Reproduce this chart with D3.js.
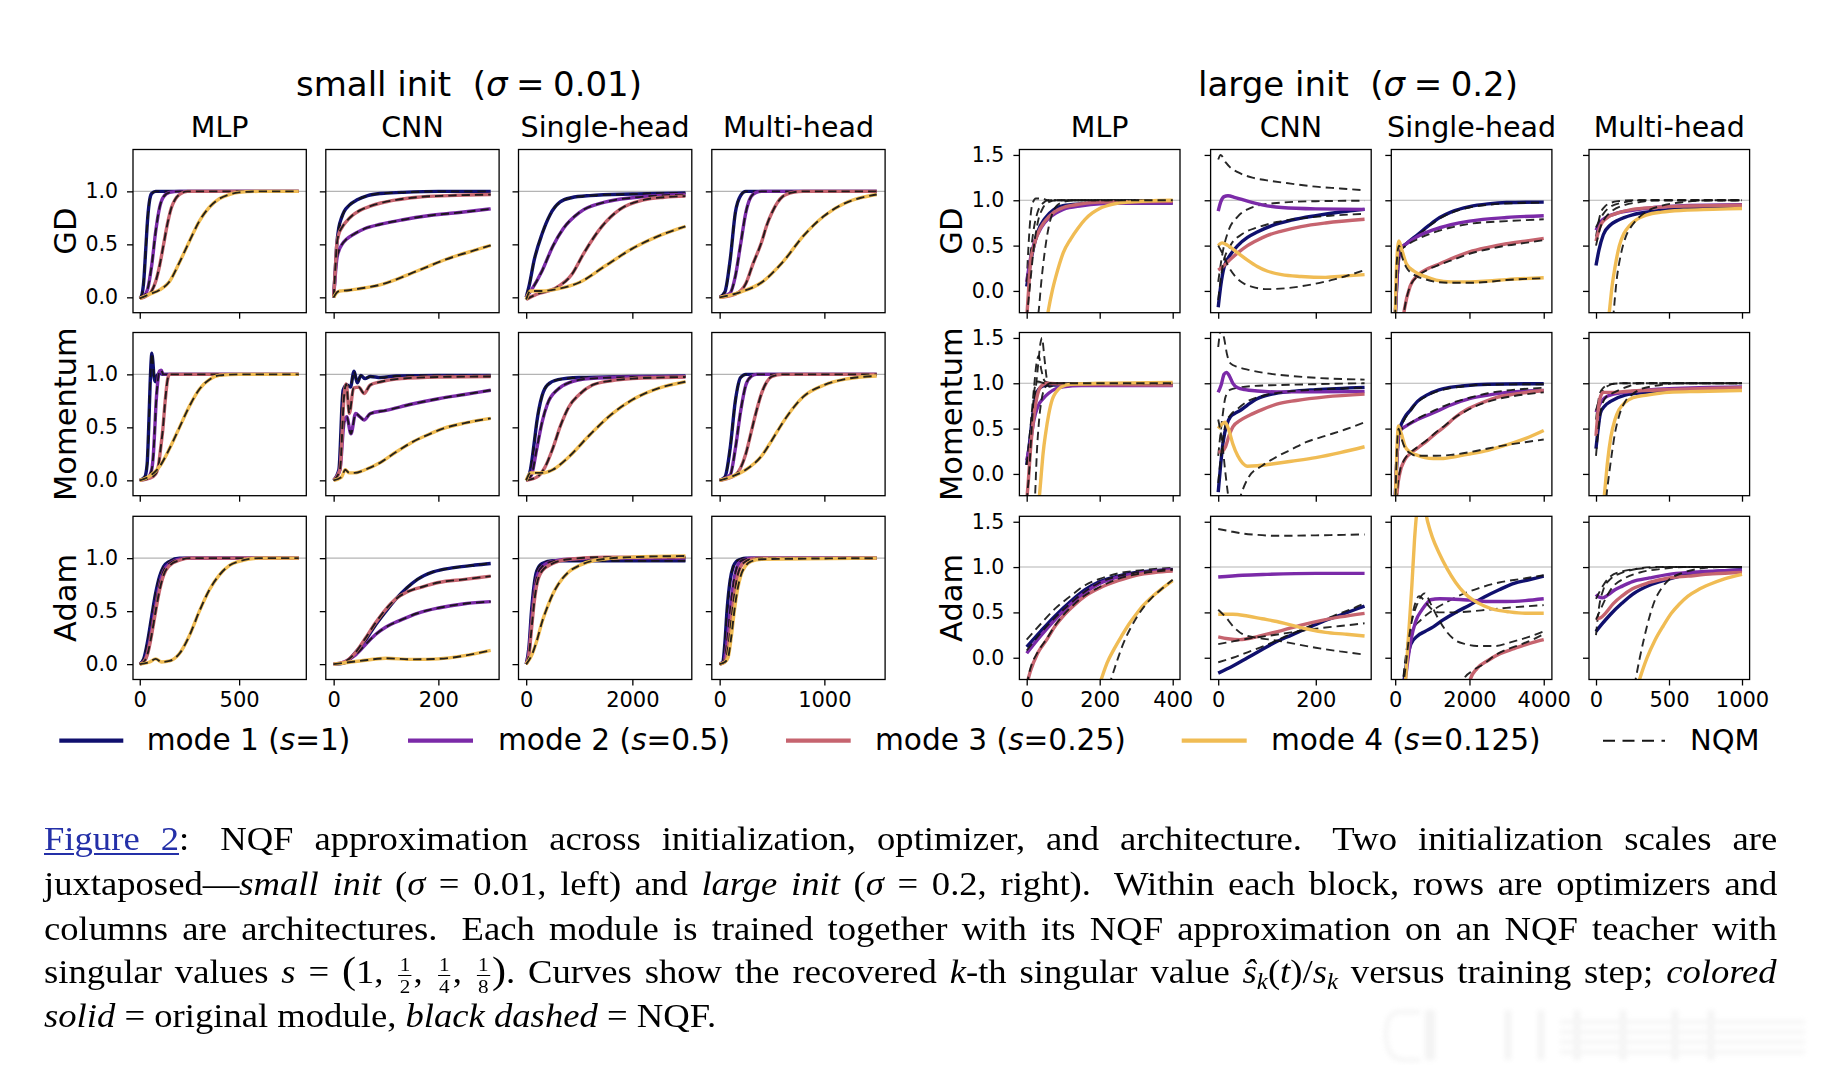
<!DOCTYPE html>
<html>
<head>
<meta charset="utf-8">
<script src="https://cdn.jsdelivr.net/npm/d3@7"></script>
<style>
  body { margin: 0; background: #fff; }
  #wrap { position: relative; width: 1823px; height: 1080px; overflow: hidden; background: #fff; }
  #chart { position: absolute; left: 0; top: 0; }
  .cap { position: absolute; left: 44px; height: 44px; white-space: nowrap;
         font-family: "Liberation Serif", "Times New Roman", Times, serif;
         font-size: 33px; line-height: 44px; color: #000;
         transform: scaleX(1.11); transform-origin: 0 0; }
  .cap i { font-style: italic; }
  .fig { color: #2430a8; text-decoration: underline; text-decoration-thickness: 1.5px; text-underline-offset: 3px; }
  .frac { display: inline-block; vertical-align: -10px; text-align: center; font-size: 19px; line-height: 21.5px; margin: 0 2px; }
  .frac span { display: block; }
  .frac .num { border-bottom: 1.3px solid #000; padding: 0 1px; line-height: 21.5px; }
  .big { font-size: 38px; line-height: 1; }
  .sub { font-size: 0.68em; vertical-align: -0.28em; line-height: 0; }
  .ss { display: inline-block; width: 9px; }
</style>
</head>
<body>
<div id="wrap">
<svg id="chart"></svg>
<div class="cap" style="top:817px;"><span class="in"><span class="fig">Figure 2</span>:<span class="ss"></span> NQF approximation across initialization, optimizer, and architecture.<span class="ss"></span> Two initialization scales are</span></div>
<div class="cap" style="top:862px;"><span class="in">juxtaposed—<i>small init</i> (<i>σ</i> = 0.01, left) and <i>large init</i> (<i>σ</i> = 0.2, right).<span class="ss"></span> Within each block, rows are optimizers and</span></div>
<div class="cap" style="top:907px;"><span class="in">columns are architectures.<span class="ss"></span> Each module is trained together with its NQF approximation on an NQF teacher with</span></div>
<div class="cap" style="top:950px;"><span class="in">singular values <i>s</i> = <span class="big">(</span>1, <span class="frac"><span class="num">1</span><span>2</span></span>, <span class="frac"><span class="num">1</span><span>4</span></span>, <span class="frac"><span class="num">1</span><span>8</span></span><span class="big">)</span>. Curves show the recovered <i>k</i>-th singular value <i>ŝ</i><span class="sub"><i>k</i></span>(<i>t</i>)/<i>s</i><span class="sub"><i>k</i></span> versus training step; <i>colored</i></span></div>
<div class="cap last" style="top:994px;"><span class="in"><i>solid</i> = original module, <i>black dashed</i> = NQF.</span></div>
</div>
<script>
// ===================== DATA =====================
// [training step, recovered singular value ratio]
const MODE_LABELS = ["1", "0.5", "0.25", "0.125"];
const ARCHS = ["MLP", "CNN", "Single-head", "Multi-head"];
const OPTIMS = ["GD", "Momentum", "Adam"];

const SMALL_XTICKS = [[0, 500], [0, 200], [0, 2000], [0, 1000]];
const LARGE_XTICKS = [[0, 200, 400], [0, 200], [0, 2000, 4000], [0, 500, 1000]];
const SMALL_YTICKS = [0.0, 0.5, 1.0];
const LARGE_YTICKS = [0.0, 0.5, 1.0, 1.5];
const SMALL_XDOM = [[-34, 838], [-15, 316], [-145, 3120], [-75, 1580]];
const LARGE_XDOM = [[-20, 420], [-15.6, 313.6], [-105, 4220], [-48, 1052]];
const SMALL_YDOM = [-0.145, 1.395];
const LARGE_YDOM = [-0.24, 1.56];

// ---------- small init (sigma = 0.01) ; NQF tracks module closely ----------
const S_GD_MLP_1 = [[0,-0.01],[10,0.02],[20,0.15],[30,0.45],[40,0.75],[50,0.92],[60,0.98],[80,1.0],[800,1.0]];
const S_GD_MLP_2 = [[0,-0.01],[20,0.01],[40,0.08],[60,0.3],[80,0.62],[100,0.85],[120,0.95],[150,0.99],[200,1.0],[800,1.0]];
const S_GD_MLP_3 = [[0,-0.01],[40,0.02],[60,0.06],[80,0.15],[100,0.3],[120,0.5],[140,0.7],[160,0.85],[180,0.93],[200,0.97],[240,1.0],[800,1.0]];
const S_GD_MLP_4 = [[0,-0.01],[50,0.03],[100,0.07],[150,0.15],[200,0.33],[250,0.53],[300,0.72],[350,0.85],[400,0.93],[450,0.97],[500,0.99],[600,1.0],[800,1.0]];
const S_GD_CNN_1 = [[0,0],[3,0.25],[6,0.5],[10,0.66],[15,0.75],[20,0.81],[30,0.87],[45,0.92],[65,0.96],[90,0.98],[130,0.99],[200,1.0],[300,1.0]];
const S_GD_CNN_2 = [[0,0],[3,0.2],[6,0.36],[10,0.44],[16,0.5],[25,0.55],[40,0.6],[60,0.65],[90,0.69],[130,0.73],[180,0.77],[240,0.8],[300,0.835]];
const S_GD_CNN_3 = [[0,0],[3,0.25],[6,0.5],[10,0.6],[16,0.66],[25,0.72],[35,0.77],[50,0.82],[70,0.86],[90,0.89],[120,0.92],[160,0.945],[220,0.96],[300,0.97]];
const S_GD_CNN_4 = [[0,0],[5,0.04],[12,0.06],[25,0.065],[40,0.075],[60,0.09],[90,0.12],[120,0.17],[150,0.23],[180,0.29],[210,0.35],[240,0.4],[270,0.445],[300,0.49]];
const S_GD_SH_1 = [[0,0],[60,0.12],[150,0.35],[300,0.6],[450,0.78],[640,0.9],[850,0.94],[1200,0.96],[2000,0.975],[3000,0.985]];
const S_GD_SH_2 = [[0,0],[100,0.07],[300,0.25],[500,0.48],[700,0.65],[1000,0.8],[1500,0.9],[2000,0.94],[3000,0.97]];
const S_GD_SH_3 = [[0,-0.02],[200,0.03],[528,0.08],[865,0.22],[1090,0.42],[1427,0.67],[1765,0.83],[2215,0.92],[2600,0.945],[3000,0.955]];
const S_GD_SH_4 = [[0,-0.02],[80,0.06],[300,0.06],[600,0.08],[1000,0.14],[1500,0.3],[2000,0.46],[2500,0.58],[3000,0.67]];
const S_GD_MH_1 = [[0,0],[50,0.05],[100,0.35],[150,0.8],[200,0.96],[250,1.0],[1500,1.0]];
const S_GD_MH_2 = [[0,0],[100,0.04],[150,0.2],[200,0.5],[250,0.8],[300,0.95],[350,0.99],[400,1.0],[1500,1.0]];
const S_GD_MH_3 = [[0,0],[150,0.03],[250,0.13],[320,0.32],[400,0.52],[450,0.68],[500,0.8],[600,0.95],[700,0.99],[800,1.0],[1500,1.0]];
const S_GD_MH_4 = [[0,0],[200,0.05],[400,0.14],[600,0.33],[800,0.58],[1000,0.77],[1200,0.89],[1350,0.94],[1500,0.97]];

const S_MO_MLP_1 = [[0,0],[25,0.03],[37,0.15],[45,0.5],[52,0.9],[57,1.12],[61,1.2],[66,1.12],[72,0.97],[79,0.93],[88,0.99],[100,1.01],[120,1.0],[800,1.0]];
const S_MO_MLP_2 = [[0,0],[40,0.02],[60,0.1],[69,0.26],[76,0.5],[82,0.73],[90,0.92],[99,1.03],[108,1.04],[118,1.0],[800,1.0]];
const S_MO_MLP_3 = [[0,0],[50,0.02],[80,0.06],[95,0.15],[105,0.3],[116,0.48],[128,0.75],[140,0.95],[150,1.0],[800,1.0]];
const S_MO_MLP_4 = [[0,0],[50,0.04],[100,0.13],[150,0.3],[200,0.5],[250,0.7],[300,0.86],[350,0.95],[400,0.99],[500,1.0],[800,1.0]];
const S_MO_CNN_1 = [[0,0],[10,0.1],[18,0.85],[25,0.9],[32,0.88],[39,1.03],[45,0.92],[52,0.99],[60,0.96],[70,0.98],[90,0.97],[120,0.985],[200,0.99],[300,0.99]];
const S_MO_CNN_2 = [[0,0],[12,0.1],[20,0.55],[25,0.6],[33,0.44],[42,0.63],[50,0.6],[58,0.57],[70,0.63],[100,0.66],[150,0.72],[200,0.77],[250,0.81],[300,0.85]];
const S_MO_CNN_3 = [[0,0],[12,0.1],[20,0.8],[24,0.91],[30,0.63],[38,0.87],[48,0.88],[58,0.82],[70,0.9],[90,0.93],[130,0.96],[200,0.975],[300,0.98]];
const S_MO_CNN_4 = [[0,0],[15,0.03],[22,0.1],[30,0.07],[40,0.07],[60,0.1],[90,0.17],[120,0.27],[150,0.36],[180,0.43],[210,0.49],[250,0.54],[300,0.585]];
const S_MO_SH_1 = [[0,0],[80,0.1],[150,0.35],[200,0.55],[300,0.8],[400,0.9],[600,0.95],[1000,0.97],[2000,0.98],[3000,0.985]];
const S_MO_SH_2 = [[0,0],[100,0.05],[200,0.3],[300,0.55],[400,0.72],[600,0.86],[800,0.92],[1200,0.96],[2000,0.975],[3000,0.98]];
const S_MO_SH_3 = [[0,0],[200,0.03],[350,0.12],[500,0.3],[650,0.52],[800,0.69],[1000,0.81],[1250,0.9],[1600,0.94],[2000,0.96],[3000,0.975]];
const S_MO_SH_4 = [[0,0],[80,0.07],[300,0.07],[500,0.1],[800,0.22],[1200,0.43],[1600,0.62],[2000,0.76],[2500,0.87],[3000,0.93]];
const S_MO_MH_1 = [[0,0],[50,0.03],[100,0.3],[150,0.75],[200,0.97],[250,1.0],[1500,1.0]];
const S_MO_MH_2 = [[0,0],[100,0.05],[150,0.3],[200,0.65],[250,0.9],[300,0.98],[350,1.0],[1500,1.0]];
const S_MO_MH_3 = [[0,0],[150,0.05],[250,0.25],[300,0.45],[350,0.65],[400,0.82],[450,0.93],[500,0.98],[600,1.0],[1500,1.0]];
const S_MO_MH_4 = [[0,0],[100,0.03],[250,0.1],[400,0.23],[500,0.38],[600,0.54],[700,0.68],[800,0.79],[1000,0.9],[1200,0.955],[1500,0.985]];

const S_AD_MLP_1 = [[0,0],[20,0.05],[40,0.22],[60,0.45],[80,0.67],[100,0.83],[120,0.92],[150,0.97],[200,1.0],[800,1.0]];
const S_AD_MLP_2 = [[0,0],[20,0.02],[40,0.12],[60,0.32],[80,0.55],[100,0.75],[120,0.88],[150,0.95],[200,0.99],[250,1.0],[800,1.0]];
const S_AD_MLP_3 = [[0,0],[20,0.02],[40,0.1],[60,0.28],[80,0.5],[100,0.7],[120,0.84],[150,0.93],[200,0.98],[250,1.0],[800,1.0]];
const S_AD_MLP_4 = [[0,0],[50,0.02],[80,0.05],[110,0.02],[150,0.03],[200,0.1],[250,0.27],[300,0.5],[350,0.7],[400,0.84],[450,0.93],[500,0.97],[600,1.0],[800,1.0]];
const S_AD_CNN_1 = [[0,0],[20,0.01],[40,0.1],[60,0.22],[80,0.37],[100,0.5],[120,0.62],[140,0.72],[160,0.8],[190,0.87],[230,0.91],[270,0.935],[300,0.95]];
const S_AD_CNN_2 = [[0,0],[20,0.02],[40,0.08],[60,0.18],[80,0.28],[100,0.35],[130,0.42],[160,0.48],[200,0.53],[250,0.57],[300,0.59]];
const S_AD_CNN_3 = [[0,0],[20,0.02],[40,0.1],[60,0.24],[80,0.39],[100,0.52],[120,0.62],[140,0.68],[170,0.73],[200,0.77],[250,0.8],[300,0.83]];
const S_AD_CNN_4 = [[0,0],[50,0.03],[100,0.055],[150,0.045],[200,0.05],[250,0.08],[300,0.13]];
const S_AD_SH_1 = [[0,0],[50,0.15],[100,0.5],[150,0.75],[200,0.88],[300,0.95],[500,0.975],[1000,0.975],[3000,0.975]];
const S_AD_SH_2 = [[0,0],[50,0.1],[100,0.4],[150,0.66],[200,0.82],[300,0.92],[500,0.97],[800,0.99],[1500,1.0],[3000,1.0]];
const S_AD_SH_3 = [[0,0],[50,0.08],[100,0.33],[150,0.58],[200,0.75],[300,0.88],[500,0.95],[800,0.99],[1500,1.01],[3000,1.01]];
const S_AD_SH_4 = [[0,0],[100,0.08],[200,0.22],[300,0.4],[400,0.54],[500,0.66],[600,0.75],[800,0.87],[1000,0.93],[1300,0.98],[2000,1.01],[3000,1.02]];
const S_AD_MH_1 = [[0,0],[30,0.02],[50,0.2],[70,0.5],[100,0.79],[130,0.92],[160,0.97],[200,0.99],[250,1.0],[1500,1.0]];
const S_AD_MH_2 = [[0,0],[40,0.02],[70,0.2],[100,0.5],[130,0.75],[160,0.9],[200,0.97],[250,0.99],[300,1.0],[1500,1.0]];
const S_AD_MH_3 = [[0,0],[50,0.02],[80,0.15],[110,0.4],[140,0.65],[170,0.83],[200,0.92],[250,0.97],[300,0.99],[400,1.0],[1500,1.0]];
const S_AD_MH_4 = [[0,0],[50,0.02],[80,0.06],[110,0.25],[140,0.5],[170,0.7],[200,0.83],[250,0.93],[300,0.97],[400,0.99],[1500,1.0]];

// ---------- large init (sigma = 0.2) : module (1..4) and NQF (d1..d4) ----------
const L_GD_MLP_1 = [[0,0.05],[10,0.3],[20,0.5],[30,0.65],[50,0.8],[75,0.9],[100,0.94],[150,0.96],[200,0.97],[400,0.97]];
const L_GD_MLP_2 = [[0,0.1],[10,0.35],[20,0.52],[40,0.7],[60,0.8],[80,0.86],[100,0.9],[150,0.94],[200,0.96],[300,0.97],[400,0.97]];
const L_GD_MLP_3 = [[0,-0.3],[5,0.0],[10,0.3],[20,0.5],[30,0.63],[50,0.77],[75,0.87],[100,0.92],[150,0.96],[200,0.98],[400,0.99]];
const L_GD_MLP_4 = [[40,-0.8],[50,-0.45],[60,-0.2],[70,0.0],[80,0.16],[90,0.3],[100,0.42],[120,0.57],[140,0.69],[160,0.79],[180,0.86],[200,0.91],[240,0.96],[280,0.98],[400,1.0]];
const L_GD_MLP_d1 = [[0,0.1],[5,0.5],[10,0.8],[15,0.95],[25,1.02],[40,1.02],[60,1.0],[400,1.0]];
const L_GD_MLP_d2 = [[0,0.1],[10,0.4],[20,0.7],[30,0.87],[45,0.97],[60,1.0],[400,1.0]];
const L_GD_MLP_d3 = [[0,-0.3],[10,0.1],[20,0.5],[30,0.75],[45,0.92],[60,0.98],[80,1.0],[400,1.0]];
const L_GD_MLP_d4 = [[25,-0.4],[32,-0.25],[40,0.1],[50,0.45],[60,0.7],[70,0.85],[80,0.93],[100,0.98],[130,1.0],[400,1.0]];
const L_GD_CNN_1 = [[0,-0.18],[5,0.05],[12,0.26],[25,0.4],[40,0.5],[60,0.59],[80,0.65],[110,0.72],[150,0.78],[200,0.83],[250,0.87],[300,0.9]];
const L_GD_CNN_2 = [[0,0.88],[5,0.98],[12,1.04],[20,1.05],[35,1.03],[60,0.99],[90,0.95],[130,0.92],[200,0.905],[300,0.9]];
const L_GD_CNN_3 = [[0,0.23],[10,0.27],[25,0.35],[40,0.42],[60,0.5],[80,0.56],[100,0.61],[130,0.66],[170,0.71],[220,0.75],[300,0.79]];
const L_GD_CNN_4 = [[0,0.5],[8,0.53],[20,0.5],[40,0.42],[60,0.34],[80,0.27],[100,0.22],[130,0.18],[170,0.16],[220,0.15],[260,0.165],[300,0.18]];
const L_GD_CNN_d1 = [[0,0.1],[10,0.45],[20,0.65],[40,0.82],[60,0.9],[80,0.94],[120,0.97],[200,0.99],[300,0.995]];
const L_GD_CNN_d2 = [[0,1.45],[5,1.5],[15,1.42],[25,1.36],[40,1.31],[70,1.25],[100,1.22],[140,1.19],[200,1.15],[250,1.13],[300,1.11]];
const L_GD_CNN_d3 = [[0,-0.1],[10,0.3],[25,0.5],[50,0.63],[80,0.7],[120,0.76],[170,0.8],[230,0.83],[300,0.85]];
const L_GD_CNN_d4 = [[0,0.5],[10,0.4],[20,0.28],[35,0.16],[50,0.09],[70,0.045],[100,0.02],[140,0.03],[190,0.07],[240,0.13],[300,0.23]];
const L_GD_SH_1 = [[0,-0.3],[60,0.2],[120,0.45],[300,0.52],[600,0.62],[900,0.72],[1200,0.81],[1500,0.87],[2000,0.93],[2500,0.96],[3000,0.975],[4000,0.98]];
const L_GD_SH_2 = [[0,-0.3],[60,0.2],[150,0.46],[300,0.52],[600,0.6],[1000,0.67],[1500,0.73],[2000,0.77],[3000,0.81],[4000,0.83]];
const L_GD_SH_3 = [[150,-0.5],[250,-0.2],[400,0.05],[600,0.17],[900,0.25],[1200,0.3],[1600,0.37],[2000,0.43],[2500,0.48],[3000,0.52],[3500,0.55],[4000,0.58]];
const L_GD_SH_4 = [[0,-0.3],[40,0.3],[100,0.55],[180,0.45],[300,0.3],[500,0.22],[800,0.16],[1100,0.12],[1500,0.1],[2000,0.1],[2500,0.11],[3000,0.125],[4000,0.145]];
const L_GD_SH_d1 = [[0,-0.3],[60,0.2],[120,0.45],[300,0.51],[600,0.61],[900,0.71],[1200,0.8],[1500,0.86],[2000,0.92],[2500,0.95],[3000,0.965],[4000,0.975]];
const L_GD_SH_d2 = [[0,-0.3],[60,0.2],[150,0.45],[300,0.5],[600,0.57],[1000,0.64],[1500,0.7],[2000,0.74],[3000,0.77],[4000,0.79]];
const L_GD_SH_d3 = [[150,-0.5],[250,-0.2],[400,0.05],[600,0.16],[900,0.24],[1200,0.29],[1600,0.35],[2000,0.41],[2500,0.46],[3000,0.5],[3500,0.53],[4000,0.56]];
const L_GD_SH_d4 = [[0,-0.3],[40,0.3],[100,0.5],[180,0.38],[300,0.26],[500,0.18],[800,0.13],[1100,0.1],[1500,0.09],[2000,0.09],[2500,0.1],[3000,0.12],[4000,0.14]];
const L_GD_MH_1 = [[0,0.28],[20,0.45],[50,0.62],[100,0.73],[150,0.78],[250,0.84],[400,0.88],[600,0.91],[800,0.92],[1000,0.93]];
const L_GD_MH_2 = [[0,0.67],[30,0.76],[70,0.81],[150,0.86],[250,0.89],[400,0.92],[600,0.94],[1000,0.95]];
const L_GD_MH_3 = [[0,0.55],[30,0.72],[70,0.8],[150,0.86],[250,0.9],[400,0.92],[600,0.935],[1000,0.945]];
const L_GD_MH_4 = [[60,-0.6],[90,-0.25],[110,0.05],[130,0.26],[160,0.5],[190,0.63],[230,0.72],[280,0.79],[350,0.84],[450,0.87],[600,0.89],[800,0.9],[1000,0.91]];
const L_GD_MH_d1 = [[0,0.6],[30,0.85],[60,0.93],[100,0.97],[150,0.99],[250,1.0],[1000,1.0]];
const L_GD_MH_d2 = [[0,0.7],[50,0.85],[100,0.93],[200,0.98],[300,1.0],[1000,1.0]];
const L_GD_MH_d3 = [[0,0.5],[30,0.7],[60,0.8],[100,0.87],[200,0.95],[300,0.98],[400,1.0],[1000,1.0]];
const L_GD_MH_d4 = [[100,-0.6],[120,-0.25],[140,0.1],[170,0.4],[200,0.58],[250,0.73],[300,0.82],[350,0.88],[450,0.94],[600,0.98],[800,1.0],[1000,1.0]];

const L_MO_MLP_1 = [[0,0.1],[8,0.35],[15,0.6],[23,0.82],[32,0.93],[45,0.97],[60,0.98],[400,0.98]];
const L_MO_MLP_2 = [[0,0.15],[10,0.35],[20,0.6],[30,0.74],[45,0.83],[60,0.89],[80,0.94],[100,0.96],[150,0.975],[400,0.975]];
const L_MO_MLP_3 = [[0,-0.3],[5,-0.05],[10,0.25],[20,0.65],[30,0.88],[40,0.97],[55,1.0],[100,0.99],[400,0.98]];
const L_MO_MLP_4 = [[25,-0.8],[35,-0.24],[40,0.0],[45,0.23],[52,0.45],[60,0.65],[70,0.82],[80,0.9],[95,0.96],[120,0.99],[200,1.0],[400,1.01]];
const L_MO_MLP_d1 = [[0,0.1],[10,0.4],[20,0.75],[30,1.15],[38,1.45],[42,1.5],[48,1.3],[55,1.05],[62,0.96],[75,0.98],[100,1.0],[400,1.0]];
const L_MO_MLP_d2 = [[0,0.1],[10,0.5],[20,0.95],[28,1.25],[33,1.3],[40,1.15],[50,1.02],[70,1.0],[400,1.0]];
const L_MO_MLP_d3 = [[0,-0.3],[8,0.1],[15,0.6],[22,0.95],[30,1.02],[50,1.0],[400,1.0]];
const L_MO_MLP_d4 = [[15,-0.8],[23,-0.24],[28,0.25],[33,0.55],[40,0.8],[50,0.95],[65,1.0],[400,1.0]];
const L_MO_CNN_1 = [[0,-0.2],[5,0.1],[10,0.35],[18,0.55],[25,0.63],[35,0.67],[45,0.7],[60,0.76],[80,0.83],[110,0.88],[150,0.91],[200,0.93],[300,0.955]];
const L_MO_CNN_2 = [[0,0.9],[6,0.98],[12,1.1],[17,1.12],[23,1.08],[30,1.0],[40,0.95],[55,0.93],[80,0.915],[120,0.905],[200,0.905],[300,0.91]];
const L_MO_CNN_3 = [[0,0.24],[8,0.25],[15,0.3],[22,0.42],[30,0.52],[45,0.59],[65,0.65],[90,0.71],[120,0.77],[160,0.81],[220,0.85],[300,0.88]];
const L_MO_CNN_4 = [[0,0.5],[8,0.55],[14,0.57],[22,0.48],[30,0.33],[40,0.2],[50,0.12],[60,0.085],[80,0.09],[110,0.11],[150,0.14],[200,0.18],[250,0.235],[300,0.3]];
const L_MO_CNN_d1 = [[0,0.2],[8,0.6],[15,0.85],[25,0.93],[40,0.95],[70,0.97],[120,0.98],[200,0.99],[300,1.0]];
const L_MO_CNN_d2 = [[0,1.4],[6,1.6],[12,1.5],[18,1.32],[25,1.22],[40,1.18],[60,1.15],[100,1.11],[150,1.08],[200,1.06],[300,1.04]];
const L_MO_CNN_d3 = [[0,-0.1],[8,0.3],[15,0.55],[25,0.65],[40,0.72],[60,0.8],[90,0.86],[130,0.9],[200,0.93],[300,0.95]];
const L_MO_CNN_d4 = [[0,0.6],[8,0.35],[15,0.0],[22,-0.3],[30,-0.5],[40,-0.35],[46,-0.24],[63,-0.03],[90,0.09],[120,0.19],[150,0.27],[180,0.35],[220,0.42],[260,0.49],[300,0.57]];
const L_MO_SH_1 = [[0,-0.3],[50,0.2],[120,0.48],[250,0.62],[400,0.7],[600,0.8],[900,0.88],[1300,0.94],[1800,0.97],[2500,0.99],[4000,0.995]];
const L_MO_SH_2 = [[0,-0.3],[50,0.2],[120,0.47],[300,0.53],[600,0.6],[1000,0.67],[1500,0.76],[2000,0.83],[2500,0.87],[3000,0.9],[4000,0.92]];
const L_MO_SH_3 = [[0,-0.6],[45,-0.24],[120,0.0],[250,0.15],[422,0.23],[650,0.3],[874,0.37],[1100,0.45],[1326,0.52],[1600,0.62],[1929,0.71],[2300,0.78],[2700,0.84],[3200,0.88],[4000,0.92]];
const L_MO_SH_4 = [[0,-0.4],[40,0.2],[90,0.53],[160,0.45],[270,0.3],[400,0.24],[570,0.21],[800,0.18],[1025,0.17],[1300,0.17],[1600,0.19],[2000,0.22],[2500,0.26],[3000,0.32],[3500,0.39],[4000,0.48]];
const L_MO_SH_d1 = [[0,-0.3],[50,0.2],[120,0.47],[250,0.6],[400,0.69],[600,0.79],[900,0.87],[1300,0.93],[1800,0.965],[2500,0.985],[4000,0.99]];
const L_MO_SH_d2 = [[0,-0.3],[50,0.2],[120,0.47],[300,0.53],[600,0.61],[1000,0.69],[1500,0.78],[2000,0.84],[2500,0.89],[3000,0.92],[4000,0.95]];
const L_MO_SH_d3 = [[0,-0.6],[45,-0.24],[120,0.02],[250,0.16],[422,0.24],[650,0.31],[874,0.38],[1100,0.46],[1326,0.53],[1600,0.62],[1929,0.7],[2300,0.77],[2700,0.82],[3200,0.86],[4000,0.9]];
const L_MO_SH_d4 = [[0,-0.4],[40,0.2],[90,0.5],[160,0.4],[270,0.28],[400,0.23],[570,0.2],[800,0.2],[1100,0.2],[1500,0.21],[2000,0.24],[2500,0.28],[3000,0.32],[3500,0.35],[4000,0.38]];
const L_MO_MH_1 = [[0,0.28],[15,0.5],[30,0.67],[60,0.75],[100,0.8],[200,0.87],[350,0.9],[600,0.93],[1000,0.95]];
const L_MO_MH_2 = [[0,0.68],[30,0.78],[60,0.84],[120,0.88],[250,0.91],[500,0.94],[1000,0.96]];
const L_MO_MH_3 = [[0,0.42],[15,0.7],[30,0.85],[50,0.9],[100,0.9],[200,0.91],[500,0.93],[1000,0.95]];
const L_MO_MH_4 = [[30,-0.7],[57,-0.24],[80,0.15],[102,0.41],[130,0.6],[158,0.71],[200,0.79],[253,0.84],[350,0.87],[500,0.9],[700,0.91],[1000,0.92]];
const L_MO_MH_d1 = [[0,0.6],[25,0.88],[50,0.95],[100,0.99],[200,1.0],[1000,1.0]];
const L_MO_MH_d2 = [[0,0.7],[40,0.9],[80,0.97],[150,1.0],[1000,1.0]];
const L_MO_MH_d3 = [[0,0.2],[20,0.55],[40,0.75],[70,0.85],[100,0.88],[150,0.92],[230,0.97],[300,1.0],[1000,1.0]];
const L_MO_MH_d4 = [[50,-0.7],[72,-0.24],[90,0.0],[109,0.23],[130,0.45],[158,0.64],[200,0.8],[250,0.88],[300,0.93],[400,0.97],[550,1.0],[1000,1.0]];

const L_AD_MLP_1 = [[0,0.12],[40,0.3],[80,0.47],[120,0.62],[160,0.75],[200,0.84],[250,0.9],[300,0.94],[350,0.96],[400,0.975]];
const L_AD_MLP_2 = [[0,0.05],[40,0.25],[80,0.43],[120,0.59],[160,0.72],[200,0.82],[250,0.89],[300,0.93],[350,0.955],[400,0.97]];
const L_AD_MLP_3 = [[0,-0.3],[10,-0.15],[30,0.05],[55,0.2],[80,0.36],[100,0.46],[130,0.58],[160,0.68],[200,0.77],[250,0.85],[300,0.91],[350,0.94],[400,0.955]];
const L_AD_MLP_4 = [[190,-0.4],[204,-0.24],[220,-0.06],[240,0.1],[260,0.24],[280,0.37],[300,0.48],[320,0.58],[340,0.66],[370,0.76],[400,0.85]];
const L_AD_MLP_d1 = [[0,0.2],[40,0.38],[80,0.55],[120,0.68],[160,0.8],[200,0.87],[250,0.93],[300,0.96],[350,0.98],[400,0.99]];
const L_AD_MLP_d2 = [[0,0.08],[40,0.28],[80,0.45],[120,0.6],[160,0.73],[200,0.83],[250,0.9],[300,0.94],[350,0.96],[400,0.98]];
const L_AD_MLP_d3 = [[0,-0.3],[10,-0.12],[30,0.06],[55,0.21],[80,0.37],[100,0.47],[130,0.59],[160,0.69],[200,0.78],[250,0.87],[300,0.92],[350,0.95],[400,0.97]];
const L_AD_MLP_d4 = [[215,-0.45],[231,-0.24],[248,-0.03],[264,0.15],[285,0.33],[310,0.5],[340,0.65],[370,0.76],[400,0.86]];
const L_AD_CNN_1 = [[0,-0.17],[30,-0.09],[60,0.0],[90,0.09],[113,0.16],[150,0.25],[180,0.32],[210,0.39],[240,0.45],[270,0.51],[300,0.57]];
const L_AD_CNN_2 = [[0,0.89],[50,0.91],[100,0.92],[200,0.93],[300,0.93]];
const L_AD_CNN_3 = [[0,0.23],[20,0.21],[45,0.2],[70,0.22],[100,0.26],[130,0.3],[170,0.36],[210,0.41],[250,0.45],[300,0.49]];
const L_AD_CNN_4 = [[0,0.48],[30,0.48],[60,0.46],[90,0.43],[120,0.4],[150,0.36],[180,0.32],[220,0.28],[260,0.26],[300,0.24]];
const L_AD_CNN_d1 = [[0,1.42],[20,1.4],[50,1.37],[80,1.355],[120,1.345],[200,1.35],[300,1.36]];
const L_AD_CNN_d2 = [[0,-0.05],[30,0.0],[60,0.06],[103,0.15],[140,0.24],[180,0.33],[210,0.4],[240,0.47],[270,0.53],[300,0.6]];
const L_AD_CNN_d3 = [[0,0.15],[30,0.18],[60,0.21],[100,0.24],[150,0.28],[200,0.32],[250,0.35],[300,0.38]];
const L_AD_CNN_d4 = [[0,0.53],[15,0.45],[30,0.35],[50,0.26],[80,0.22],[120,0.19],[160,0.15],[200,0.11],[250,0.07],[300,0.035]];
const L_AD_SH_1 = [[120,-0.5],[241,-0.24],[330,0.0],[422,0.15],[600,0.24],[800,0.29],[1025,0.34],[1300,0.42],[1628,0.5],[2000,0.58],[2400,0.67],[2800,0.75],[3200,0.82],[3600,0.86],[4000,0.9]];
const L_AD_SH_2 = [[150,-0.5],[271,-0.24],[350,0.0],[422,0.19],[550,0.4],[723,0.53],[850,0.6],[950,0.64],[1200,0.65],[1600,0.645],[2000,0.635],[2500,0.62],[3000,0.62],[3500,0.63],[4000,0.65]];
const L_AD_SH_3 = [[1900,-0.5],[2019,-0.24],[2200,-0.12],[2500,-0.03],[2822,0.045],[3200,0.1],[3713,0.17],[4000,0.2]];
const L_AD_SH_4 = [[200,-0.6],[280,-0.24],[350,0.19],[450,0.8],[520,1.3],[573,1.57],[650,1.75],[750,1.72],[874,1.5],[1000,1.33],[1175,1.16],[1400,0.98],[1628,0.83],[1850,0.72],[2080,0.64],[2400,0.57],[2682,0.53],[3000,0.51],[3500,0.49],[4000,0.49]];
const L_AD_SH_d1 = [[150,-0.5],[260,-0.1],[422,0.27],[700,0.42],[1000,0.52],[1326,0.6],[1700,0.68],[2200,0.76],[2800,0.83],[3400,0.87],[4000,0.91]];
const L_AD_SH_d2 = [[150,-0.5],[280,0.0],[450,0.45],[648,0.68],[800,0.62],[1000,0.53],[1175,0.5],[1600,0.5],[2000,0.51],[2500,0.53],[3000,0.55],[4000,0.58]];
const L_AD_SH_d3 = [[1700,-0.5],[1840,-0.24],[2100,-0.14],[2380,-0.07],[2700,0.03],[3000,0.09],[3400,0.15],[3700,0.2],[4000,0.26]];
const L_AD_SH_d4 = [[150,-0.5],[250,-0.2],[400,0.3],[600,0.6],[800,0.71],[950,0.6],[1175,0.42],[1400,0.28],[1628,0.19],[1900,0.15],[2200,0.13],[2700,0.13],[3100,0.17],[3600,0.23],[4000,0.29]];
const L_AD_MH_1 = [[0,0.29],[40,0.37],[100,0.48],[177,0.6],[250,0.7],[366,0.8],[480,0.86],[630,0.92],[800,0.95],[1000,0.97]];
const L_AD_MH_2 = [[0,0.7],[20,0.67],[45,0.66],[80,0.69],[130,0.75],[180,0.79],[250,0.84],[366,0.88],[500,0.92],[630,0.94],[800,0.955],[1000,0.965]];
const L_AD_MH_3 = [[0,0.43],[30,0.44],[64,0.49],[120,0.6],[177,0.68],[250,0.76],[366,0.83],[500,0.88],[630,0.9],[800,0.925],[1000,0.94]];
const L_AD_MH_4 = [[250,-0.5],[298,-0.24],[350,0.0],[403,0.19],[460,0.35],[516,0.49],[570,0.59],[630,0.68],[700,0.75],[780,0.81],[880,0.87],[1000,0.92]];
const L_AD_MH_d1 = [[0,0.25],[20,0.55],[50,0.75],[100,0.87],[150,0.92],[250,0.97],[400,1.0],[1000,1.0]];
const L_AD_MH_d2 = [[0,0.65],[50,0.8],[100,0.9],[200,0.96],[350,0.99],[500,1.0],[1000,1.0]];
const L_AD_MH_d3 = [[0,0.42],[50,0.6],[100,0.75],[200,0.88],[300,0.94],[450,0.98],[600,1.0],[1000,1.0]];
const L_AD_MH_d4 = [[230,-0.6],[271,-0.24],[300,0.0],[330,0.22],[366,0.45],[400,0.62],[450,0.77],[500,0.86],[600,0.94],[700,0.98],[850,1.0],[1000,1.0]];

// ---------- tables built from the arrays above ----------
const SMALL_SOLID = [
  [[S_GD_MLP_1,S_GD_MLP_2,S_GD_MLP_3,S_GD_MLP_4],[S_GD_CNN_1,S_GD_CNN_2,S_GD_CNN_3,S_GD_CNN_4],[S_GD_SH_1,S_GD_SH_2,S_GD_SH_3,S_GD_SH_4],[S_GD_MH_1,S_GD_MH_2,S_GD_MH_3,S_GD_MH_4]],
  [[S_MO_MLP_1,S_MO_MLP_2,S_MO_MLP_3,S_MO_MLP_4],[S_MO_CNN_1,S_MO_CNN_2,S_MO_CNN_3,S_MO_CNN_4],[S_MO_SH_1,S_MO_SH_2,S_MO_SH_3,S_MO_SH_4],[S_MO_MH_1,S_MO_MH_2,S_MO_MH_3,S_MO_MH_4]],
  [[S_AD_MLP_1,S_AD_MLP_2,S_AD_MLP_3,S_AD_MLP_4],[S_AD_CNN_1,S_AD_CNN_2,S_AD_CNN_3,S_AD_CNN_4],[S_AD_SH_1,S_AD_SH_2,S_AD_SH_3,S_AD_SH_4],[S_AD_MH_1,S_AD_MH_2,S_AD_MH_3,S_AD_MH_4]]
];
const SMALL_DASH = SMALL_SOLID; // NQF overlays the module at small init
const LARGE_SOLID = [
  [[L_GD_MLP_1,L_GD_MLP_2,L_GD_MLP_3,L_GD_MLP_4],[L_GD_CNN_1,L_GD_CNN_2,L_GD_CNN_3,L_GD_CNN_4],[L_GD_SH_1,L_GD_SH_2,L_GD_SH_3,L_GD_SH_4],[L_GD_MH_1,L_GD_MH_2,L_GD_MH_3,L_GD_MH_4]],
  [[L_MO_MLP_1,L_MO_MLP_2,L_MO_MLP_3,L_MO_MLP_4],[L_MO_CNN_1,L_MO_CNN_2,L_MO_CNN_3,L_MO_CNN_4],[L_MO_SH_1,L_MO_SH_2,L_MO_SH_3,L_MO_SH_4],[L_MO_MH_1,L_MO_MH_2,L_MO_MH_3,L_MO_MH_4]],
  [[L_AD_MLP_1,L_AD_MLP_2,L_AD_MLP_3,L_AD_MLP_4],[L_AD_CNN_1,L_AD_CNN_2,L_AD_CNN_3,L_AD_CNN_4],[L_AD_SH_1,L_AD_SH_2,L_AD_SH_3,L_AD_SH_4],[L_AD_MH_1,L_AD_MH_2,L_AD_MH_3,L_AD_MH_4]]
];
const LARGE_DASH = [
  [[L_GD_MLP_d1,L_GD_MLP_d2,L_GD_MLP_d3,L_GD_MLP_d4],[L_GD_CNN_d1,L_GD_CNN_d2,L_GD_CNN_d3,L_GD_CNN_d4],[L_GD_SH_d1,L_GD_SH_d2,L_GD_SH_d3,L_GD_SH_d4],[L_GD_MH_d1,L_GD_MH_d2,L_GD_MH_d3,L_GD_MH_d4]],
  [[L_MO_MLP_d1,L_MO_MLP_d2,L_MO_MLP_d3,L_MO_MLP_d4],[L_MO_CNN_d1,L_MO_CNN_d2,L_MO_CNN_d3,L_MO_CNN_d4],[L_MO_SH_d1,L_MO_SH_d2,L_MO_SH_d3,L_MO_SH_d4],[L_MO_MH_d1,L_MO_MH_d2,L_MO_MH_d3,L_MO_MH_d4]],
  [[L_AD_MLP_d1,L_AD_MLP_d2,L_AD_MLP_d3,L_AD_MLP_d4],[L_AD_CNN_d1,L_AD_CNN_d2,L_AD_CNN_d3,L_AD_CNN_d4],[L_AD_SH_d1,L_AD_SH_d2,L_AD_SH_d3,L_AD_SH_d4],[L_AD_MH_d1,L_AD_MH_d2,L_AD_MH_d3,L_AD_MH_d4]]
];

// ===================== LAYOUT & STYLE =====================
const W = 1823, H = 1080;
const FONT = "'DejaVu Sans', Verdana, sans-serif";
const COLORS = ["#10106e", "#7b2aa8", "#c6646f", "#f0bc54"];
const ROW_TOP = [149.5, 332.5, 516.3], PH = 163.2;
const SMALL_LEFT = [133, 325.8, 518.5, 711.8], SMALL_W = 173.3;
const LARGE_LEFT = [1019.4, 1210.6, 1391.3, 1589], LARGE_W = 160.6;

const svg = d3.select("#chart").attr("width", W).attr("height", H);
const defs = svg.append("defs");

function fmt1(v) { return v.toFixed(1); }

let clipId = 0;
function drawPanel(x0, y0, w, h, xdom, ydom, solids, dashes, xticks, yticks, showY, showX) {
  const xs = d3.scaleLinear().domain(xdom).range([x0, x0 + w]);
  const ys = d3.scaleLinear().domain(ydom).range([y0 + h, y0]);
  const id = "clip" + (clipId++);
  defs.append("clipPath").attr("id", id).append("rect")
    .attr("x", x0).attr("y", y0).attr("width", w).attr("height", h);
  const g = svg.append("g");
  const plot = g.append("g").attr("clip-path", `url(#${id})`);
  plot.append("line").attr("x1", x0).attr("x2", x0 + w)
    .attr("y1", ys(1)).attr("y2", ys(1))
    .attr("stroke", "#b4b4b4").attr("stroke-width", 1.1);
  const line = d3.line().x(d => xs(d[0])).y(d => ys(d[1])).curve(d3.curveMonotoneX);
  for (let m = 0; m < 4; m++) {
    plot.append("path").attr("d", line(solids[m])).attr("fill", "none")
      .attr("stroke", COLORS[m]).attr("stroke-width", 3.4)
      .attr("stroke-linejoin", "round").attr("stroke-linecap", "butt");
    plot.append("path").attr("d", line(dashes[m])).attr("fill", "none")
      .attr("stroke", "#151515").attr("stroke-width", 1.9)
      .attr("stroke-dasharray", "8.3 5").attr("stroke-opacity", 0.92);
  }
  g.append("rect").attr("x", x0).attr("y", y0).attr("width", w).attr("height", h)
    .attr("fill", "none").attr("stroke", "#000").attr("stroke-width", 1.3);
  const ya = d3.axisLeft(ys).tickValues(yticks).tickSize(6).tickPadding(9)
    .tickFormat(showY ? fmt1 : () => "");
  const yg = g.append("g").attr("transform", `translate(${x0},0)`).call(ya);
  yg.select(".domain").remove();
  yg.selectAll(".tick line").attr("stroke", "#000").attr("stroke-width", 1.3);
  yg.selectAll(".tick text").attr("font-family", FONT).attr("font-size", 20.5).attr("fill", "#000");
  const xa = d3.axisBottom(xs).tickValues(xticks).tickSize(6).tickPadding(7)
    .tickFormat(showX ? d3.format("d") : () => "");
  const xg = g.append("g").attr("transform", `translate(0,${y0 + h})`).call(xa);
  xg.select(".domain").remove();
  xg.selectAll(".tick line").attr("stroke", "#000").attr("stroke-width", 1.3);
  xg.selectAll(".tick text").attr("font-family", FONT).attr("font-size", 21).attr("fill", "#000");
}

function block(lefts, pw, xdoms, ydom, xticks, yticks, solidT, dashT) {
  for (let r = 0; r < 3; r++) {
    for (let c = 0; c < 4; c++) {
      drawPanel(lefts[c], ROW_TOP[r], pw, PH, xdoms[c], ydom,
        solidT[r][c], dashT[r][c], xticks[c], yticks, c === 0, r === 2);
    }
  }
  for (let c = 0; c < 4; c++) {
    svg.append("text").attr("x", lefts[c] + pw / 2).attr("y", 137)
      .attr("text-anchor", "middle").attr("font-family", FONT).attr("font-size", 28.5)
      .attr("fill", "#000").text(ARCHS[c]);
  }
}

block(SMALL_LEFT, SMALL_W, SMALL_XDOM, SMALL_YDOM, SMALL_XTICKS, SMALL_YTICKS, SMALL_SOLID, SMALL_DASH);
block(LARGE_LEFT, LARGE_W, LARGE_XDOM, LARGE_YDOM, LARGE_XTICKS, LARGE_YTICKS, LARGE_SOLID, LARGE_DASH);

// row labels
[76, 962].forEach(bx => {
  for (let r = 0; r < 3; r++) {
    const cy = ROW_TOP[r] + PH / 2;
    svg.append("text").attr("transform", `translate(${bx},${cy}) rotate(-90)`)
      .attr("text-anchor", "middle").attr("font-family", FONT).attr("font-size", 30.5)
      .attr("fill", "#000").text(OPTIMS[r]);
  }
});

// block titles
function blockTitle(cx, pre, post) {
  const t = svg.append("text").attr("x", cx).attr("y", 96).attr("text-anchor", "middle")
    .attr("font-family", FONT).attr("font-size", 34).attr("fill", "#000")
    .attr("xml:space", "preserve");
  t.append("tspan").text(pre);
  t.append("tspan").attr("font-style", "italic").text("σ");
  t.append("tspan").text(post);
}
blockTitle(469, "small init  (", "\u2005=\u20050.01)");
blockTitle(1358, "large init  (", "\u2005=\u20050.2)");

// legend
const LEG_Y = 740.7, LEG_BASE = 750;
const LEG_LINES = [[59.3, 123.3], [408, 473], [786, 850.7], [1181.7, 1246.7]];
const LEG_TEXT_X = [146.7, 498, 875, 1271];
for (let m = 0; m < 4; m++) {
  svg.append("line").attr("x1", LEG_LINES[m][0]).attr("x2", LEG_LINES[m][1])
    .attr("y1", LEG_Y).attr("y2", LEG_Y).attr("stroke", COLORS[m]).attr("stroke-width", 4.2);
  const t = svg.append("text").attr("x", LEG_TEXT_X[m]).attr("y", LEG_BASE)
    .attr("font-family", FONT).attr("font-size", 29.6).attr("fill", "#000");
  t.append("tspan").text(`mode ${m + 1} (`);
  t.append("tspan").attr("font-style", "italic").text("s");
  t.append("tspan").text(`=${MODE_LABELS[m]})`);
}
svg.append("line").attr("x1", 1603).attr("x2", 1665).attr("y1", LEG_Y).attr("y2", LEG_Y)
  .attr("stroke", "#151515").attr("stroke-width", 2).attr("stroke-dasharray", "12 7.5");
svg.append("text").attr("x", 1690).attr("y", LEG_BASE).attr("font-family", FONT)
  .attr("font-size", 29).attr("fill", "#000").text("NQM");

// faint watermark (bottom right)
defs.append("filter").attr("id", "blur").append("feGaussianBlur").attr("stdDeviation", 2.5);
const wmg = svg.append("g").attr("opacity", 0.3).attr("filter", "url(#blur)");
wmg.append("path").attr("d", "M1420,1012 L1400,1012 Q1386,1012 1386,1034 Q1386,1060 1405,1060 L1420,1060")
  .attr("fill", "none").attr("stroke", "#d0d0d0").attr("stroke-width", 3);
[1425, 1505, 1538, 1574, 1620, 1672, 1708].forEach((x, i) => {
  wmg.append("rect").attr("x", x).attr("y", 1010).attr("width", i === 0 ? 10 : 6).attr("height", 50)
    .attr("fill", "#d8d8d8");
});
[1020, 1030, 1040, 1050].forEach(y => {
  wmg.append("rect").attr("x", 1560).attr("y", y).attr("width", 245).attr("height", 4).attr("fill", "#dedede");
});

// caption justification (per line, like the typeset paragraph)
const CAP_SCALE = 1.11, CAP_WIDTH = 1733;
document.querySelectorAll(".cap").forEach(div => {
  if (div.classList.contains("last")) return;
  const inner = div.querySelector(".in");
  const natural = inner.offsetWidth;
  const spaces = (inner.textContent.match(/ /g) || []).length;
  const target = CAP_WIDTH / CAP_SCALE;
  if (spaces > 0) div.style.wordSpacing = ((target - natural) / spaces) + "px";
});
</script>
</body>
</html>
